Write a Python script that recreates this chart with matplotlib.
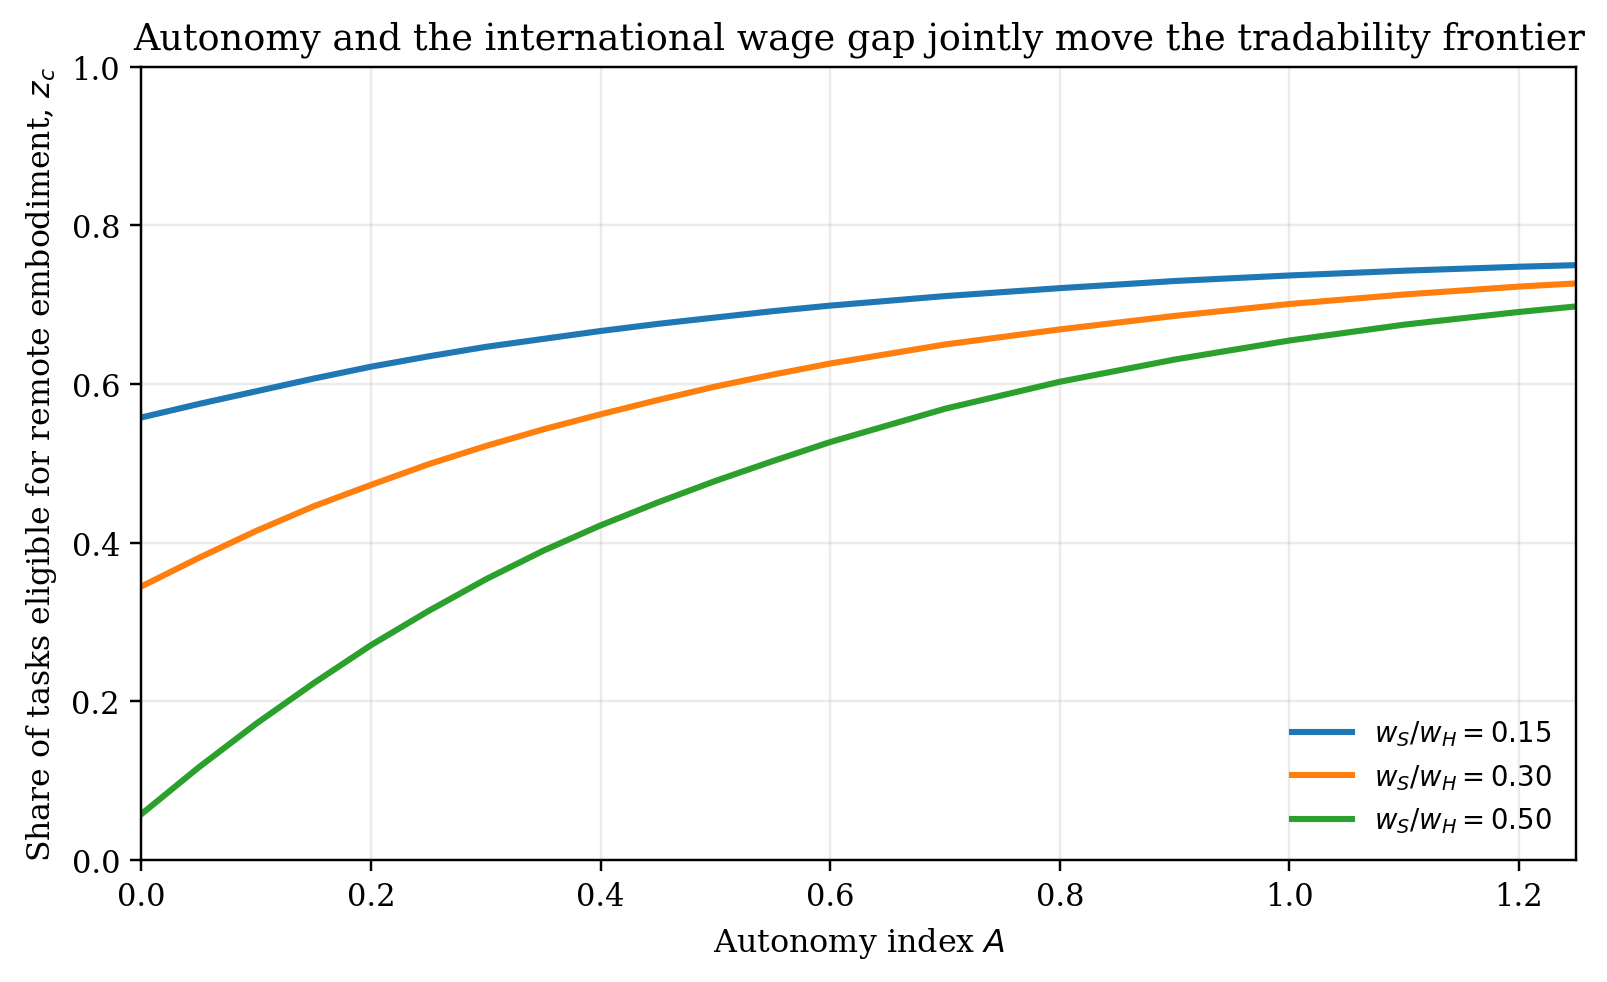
import matplotlib
matplotlib.use("Agg")
import matplotlib.pyplot as plt

plt.rcParams['font.family'] = ['DejaVu Serif']
plt.rcParams['mathtext.fontset'] = 'dejavusans'

autonomy = [0.0, 0.05, 0.1, 0.15, 0.2, 0.25, 0.3, 0.35, 0.4, 0.45, 0.5, 0.55, 0.6, 0.7, 0.8, 0.9, 1.0, 1.1, 1.2, 1.25]
z_015 = [0.558, 0.575, 0.591, 0.607, 0.622, 0.635, 0.647, 0.657, 0.667, 0.676, 0.684, 0.692, 0.699, 0.711, 0.721, 0.730, 0.737, 0.743, 0.748, 0.750]
z_030 = [0.345, 0.381, 0.415, 0.446, 0.473, 0.499, 0.522, 0.543, 0.562, 0.580, 0.597, 0.612, 0.626, 0.650, 0.669, 0.686, 0.701, 0.713, 0.723, 0.727]
z_050 = [0.058, 0.117, 0.172, 0.223, 0.271, 0.314, 0.354, 0.390, 0.422, 0.451, 0.478, 0.503, 0.527, 0.569, 0.603, 0.631, 0.655, 0.675, 0.691, 0.698]
labels = [r'$w_S/w_H=0.15$', r'$w_S/w_H=0.30$', r'$w_S/w_H=0.50$']
colors = ['#1f77b4', '#ff7f0e', '#2ca02c']

DPI = 220
fig = plt.figure(figsize=(1607/DPI, 983/DPI), dpi=DPI)
ax = fig.add_axes([0.088, 0.124, 0.893, 0.807])

for series, lab, col in zip([z_015, z_030, z_050], labels, colors):
    ax.plot(autonomy, series, color=col, lw=2.0, label=lab)

ax.set_xlim(0, 1.25)
ax.set_ylim(0, 1.0)
ax.set_xticks([0.0, 0.2, 0.4, 0.6, 0.8, 1.0, 1.2])
ax.set_yticks([0.0, 0.2, 0.4, 0.6, 0.8, 1.0])
ax.grid(True, alpha=0.25)
ax.set_xlabel(r'Autonomy index $A$', fontsize=10.4)
ax.set_ylabel(r'Share of tasks eligible for remote embodiment, $z_c$', fontsize=10.3)
ax.set_title('Autonomy and the international wage gap jointly move the tradability frontier')
ax.legend(loc='lower right', frameon=False, fontsize=9, handlelength=2.2)

fig.savefig('out.png', dpi=DPI)
